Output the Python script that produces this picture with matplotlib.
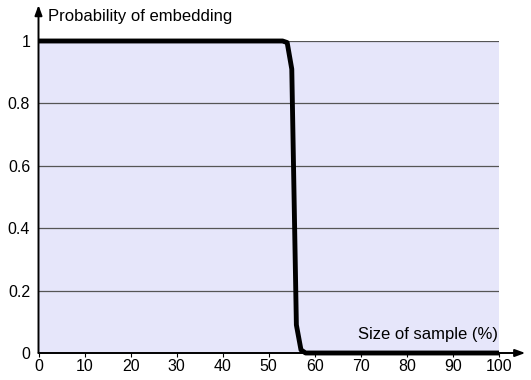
import matplotlib
matplotlib.use("Agg")
import matplotlib.pyplot as plt

plt.rcParams['font.family'] = ['Liberation Sans', 'DejaVu Sans']

# Data
size_pct = [0, 10, 20, 30, 40, 50, 53, 54, 55, 56, 57, 58, 60, 70, 80, 90, 100]
prob = [1, 1, 1, 1, 1, 1, 1, 0.995, 0.91, 0.09, 0.01, 0, 0, 0, 0, 0, 0]
x_ticks = [0, 10, 20, 30, 40, 50, 60, 70, 80, 90, 100]
y_ticks = [0, 0.2, 0.4, 0.6, 0.8, 1]
y_ticklabels = ["0", "0.2", "0.4", "0.6", "0.8", "1"]
x_label = "Size of sample (%)"
y_label = "Probability of embedding"

W, H = 531, 380
fig = plt.figure(figsize=(W / 100, H / 100), dpi=100)
ax = fig.add_axes([38.5 / W, 1 - 353 / H, (499 - 38.5) / W, (353 - 41) / H])
ax.set_facecolor("#E6E6FA")
ax.set_xlim(0, 100)
ax.set_ylim(0, 1)

for y in y_ticks[1:]:
    ax.axhline(y, color="#555555", lw=0.9, zorder=1)

ax.plot(size_pct, prob, color="black", lw=3.5, solid_joinstyle="round",
        solid_capstyle="butt", zorder=3, clip_on=False)

for s in ["top", "right", "left", "bottom"]:
    ax.spines[s].set_visible(False)

# Axis arrows
ax.annotate("", xy=(1.057, 0), xytext=(0, 0), xycoords="axes fraction",
            arrowprops=dict(arrowstyle="-|>,head_length=0.6,head_width=0.22",
                            color="black", lw=1.4, shrinkA=0, shrinkB=0),
            zorder=2, annotation_clip=False)
ax.annotate("", xy=(0, 1.115), xytext=(0, 0), xycoords="axes fraction",
            arrowprops=dict(arrowstyle="-|>,head_length=0.6,head_width=0.22",
                            color="black", lw=1.4, shrinkA=0, shrinkB=0),
            zorder=2, annotation_clip=False)

ax.set_xticks(x_ticks)
ax.set_xticklabels([str(t) for t in x_ticks])
ax.set_yticks(y_ticks)
ax.set_yticklabels(y_ticklabels)
ax.tick_params(axis="x", length=3, width=0.8, pad=1.5, labelsize=11.5, direction="out")
ax.tick_params(axis="y", length=0, pad=6, labelsize=11.5)

ax.text(0.997, 0.035, x_label, transform=ax.transAxes, ha="right", va="bottom",
        fontsize=12)
fig.text(48 / W, 1 - 16 / H, y_label, ha="left", va="center", fontsize=12)

fig.savefig("out.png", dpi=100)
